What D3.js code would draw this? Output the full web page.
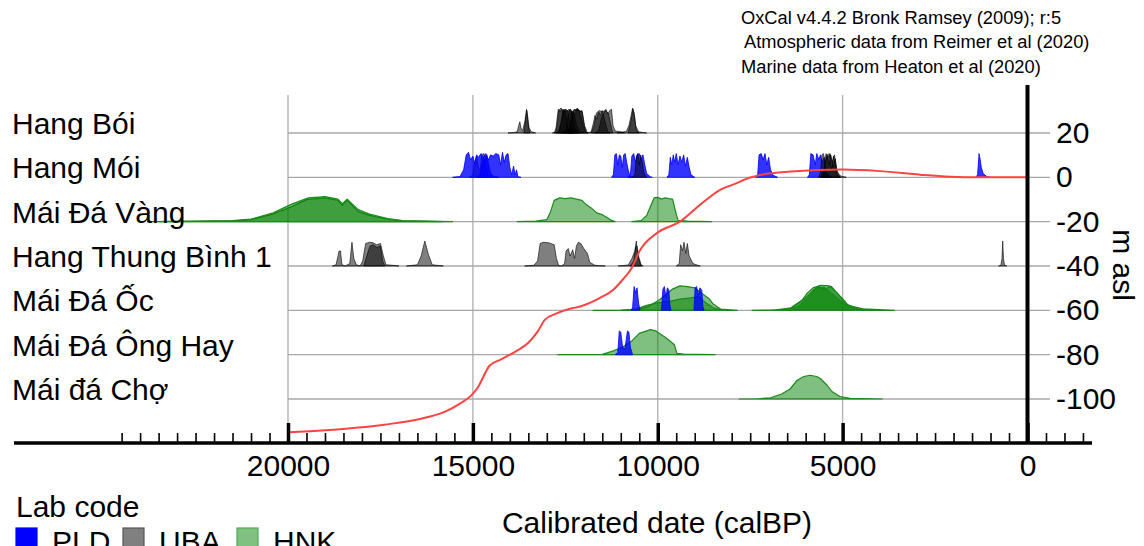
<!DOCTYPE html>
<html>
<head>
<meta charset="utf-8">
<script src="https://cdn.jsdelivr.net/npm/d3@7"></script>
<style>
html,body{margin:0;padding:0;background:#fff;}
svg{display:block;font-family:"Liberation Sans",Arial,sans-serif;}
</style>
</head>
<body>
<svg id="chart" width="1144" height="546"></svg>
<script>
// ---------------- DATA ----------------
const rowNames = ["Hang Bói","Hang Mói","Mái Đá Vàng","Hang Thung Bình 1","Mái Đá Ốc","Mái Đá Ông Hay","Mái đá Chợ"];
const rowLevels = [20,0,-20,-40,-60,-80,-100];          // m asl at which each row sits
const xMajorTicks = [20000,15000,10000,5000,0];
const yTicks = [20,0,-20,-40,-60,-80,-100];
const labCodes = ["PLD","UBA","HNK"];
const headerLines = ["OxCal v4.4.2 Bronk Ramsey (2009); r:5","Atmospheric data from Reimer et al (2020)","Marine data from Heaton et al (2020)"];

// sea level curve: [calBP, m asl]
const seaLevel = [[20000,-115],[19000,-114.1],[17400,-111.6],[16400,-108.9],[15750,-105.7],[15350,-102.1],[15050,-98.5],[14850,-94.4],[14700,-89.4],[14550,-85],[14250,-82.2],[13850,-78.6],[13500,-74.6],[13250,-69.6],[13050,-64.2],[12750,-61.5],[12350,-59.2],[12100,-58.3],[11550,-54.3],[11200,-50.7],[10950,-46.2],[10700,-40.8],[10500,-33.5],[10000,-24.9],[9400,-20],[8850,-12.3],[8300,-5.5],[7950,-3.2],[7500,-0.1],[7250,1],[6400,2.6],[5000,3.5],[4000,2.8],[2900,1.2],[2100,0.3],[1300,0],[0,0]];

// calibrated date distributions per site: [lab, [[calBP, relative probability], ...]]
const hangBoi = [
  ["UBA",[[14050,0],[13900,0.02],[13800,0.05],[13760,0.3],[13730,0.45],[13700,0.2],[13650,0.1],[13590,0.5],[13550,0.95],[13520,0.7],[13480,0.2],[13420,0.05],[13300,0]]],
  ["UBA",[[13620,0],[13570,0.6],[13540,0.9],[13510,0.4],[13460,0]]],
  ["UBA",[[12850,0],[12760,0.05],[12720,0.6],[12690,0.95],[12640,0.85],[12600,0.95],[12560,0.8],[12520,0.9],[12480,0.7],[12440,0.2],[12380,0.03],[12300,0]]],
  ["UBA",[[12800,0],[12720,0.3],[12680,0.9],[12620,1.0],[12560,0.9],[12500,0.95],[12430,0.85],[12380,0.4],[12300,0]]],
  ["UBA",[[12750,0],[12650,0.1],[12600,0.5],[12540,0.9],[12480,0.95],[12420,0.85],[12360,0.95],[12300,0.7],[12250,0.2],[12150,0]]],
  ["UBA",[[12700,0],[12620,0.4],[12560,0.95],[12480,0.85],[12400,0.95],[12330,0.9],[12260,0.8],[12200,0.3],[12100,0]]],
  ["UBA",[[12600,0],[12480,0.1],[12430,0.6],[12380,0.9],[12320,0.8],[12260,0.95],[12200,0.9],[12140,0.95],[12080,0.7],[12020,0.3],[11960,0.05],[11900,0]]],
  ["UBA",[[12500,0],[12380,0.2],[12330,0.85],[12250,0.75],[12180,1.0],[12110,0.85],[12050,0.9],[12000,0.4],[11950,0.05],[11880,0]]],
  ["UBA",[[12450,0],[12350,0.3],[12280,0.9],[12200,0.95],[12120,0.9],[12040,0.85],[11980,0.3],[11900,0]]],
  ["UBA",[[11900,0],[11800,0.05],[11740,0.4],[11700,0.7],[11650,0.55],[11600,0.85],[11550,0.7],[11500,0.9],[11450,0.6],[11400,0.3],[11350,0.05],[11300,0]]],
  ["UBA",[[11800,0],[11720,0.3],[11660,0.8],[11580,0.9],[11500,0.85],[11420,0.9],[11340,0.8],[11280,0.4],[11220,0]]],
  ["UBA",[[11700,0],[11600,0.1],[11520,0.6],[11460,0.8],[11400,0.95],[11350,0.75],[11300,0.9],[11250,0.95],[11210,0.3],[11150,0.08],[11000,0.05],[10900,0]]],
  ["UBA",[[11100,0],[10950,0.04],[10850,0.06],[10780,0.3],[10720,0.7],[10680,1.0],[10640,0.8],[10600,0.3],[10520,0.05],[10400,0.02],[10300,0]]],
  ["UBA",[[10800,0],[10720,0.5],[10670,0.95],[10630,0.7],[10580,0.1],[10500,0]]]
];
const hangMoi = [
  ["UBA",[[15100,0],[15000,0.1],[14950,0.6],[14900,0.85],[14850,0.4],[14800,0.3],[14760,0.9],[14700,0.95],[14650,0.5],[14600,0.1],[14500,0]]],
  ["PLD",[[15550,0],[15350,0.03],[15250,0.3],[15180,0.9],[15120,1.0],[15060,0.7],[15000,0.85],[14950,0.55],[14900,0.9],[14850,0.8],[14780,0.95],[14700,0.7],[14620,0.9],[14560,0.4],[14500,0.1],[14400,0.02],[14300,0]]],
  ["PLD",[[14900,0],[14800,0.1],[14720,0.8],[14650,0.95],[14580,0.7],[14520,0.9],[14450,0.85],[14380,0.95],[14300,0.9],[14250,0.5],[14200,1.0],[14150,0.6],[14100,0.9],[14050,0.95],[14000,0.4],[13950,0.1],[13900,0.45],[13860,0.1],[13820,0.3],[13780,0.02],[13700,0]]],
  ["PLD",[[11250,0],[11200,0.1],[11160,0.9],[11120,0.95],[11080,0.5],[11040,0.9],[11000,0.85],[10960,0.4],[10920,0.9],[10880,0.95],[10840,0.6],[10800,0.3],[10750,0.05],[10700,0]]],
  ["PLD",[[10800,0],[10740,0.1],[10700,0.85],[10650,0.95],[10600,0.6],[10560,0.9],[10500,0.95],[10450,0.7],[10400,0.9],[10350,0.5],[10300,0.15],[10200,0.02],[10150,0]]],
  ["UBA",[[10700,0],[10620,0.1],[10580,0.8],[10540,0.95],[10500,0.5],[10460,0.9],[10420,0.6],[10380,0.2],[10300,0]]],
  ["PLD",[[9750,0],[9700,0.1],[9660,0.8],[9620,0.5],[9580,0.9],[9540,0.6],[9500,0.95],[9450,0.5],[9400,0.85],[9350,0.6],[9300,0.9],[9250,0.45],[9200,0.8],[9150,0.4],[9100,0.1],[9000,0]]],
  ["PLD",[[7350,0],[7300,0.05],[7260,0.9],[7200,0.95],[7150,0.7],[7100,0.95],[7050,0.5],[7000,0.8],[6950,0.3],[6880,0.08],[6760,0]]],
  ["PLD",[[5950,0],[5900,0.1],[5860,0.95],[5800,0.9],[5740,0.5],[5700,0.95],[5640,0.7],[5600,0.9],[5560,0.6],[5500,0.8],[5450,0.2],[5350,0.05],[5300,0]]],
  ["UBA",[[5650,0],[5600,0.2],[5560,0.9],[5520,0.95],[5470,0.6],[5420,0.85],[5360,0.5],[5320,0.9],[5260,0.4],[5200,0.75],[5150,0.2],[5050,0.05],[4900,0]]],
  ["UBA",[[5600,0],[5500,0.3],[5450,0.95],[5400,0.8],[5350,0.9],[5300,0.3],[5250,0.85],[5200,0.5],[5150,0.1],[5050,0]]],
  ["UBA",[[5550,0],[5480,0.5],[5420,0.9],[5340,0.95],[5280,0.6],[5220,0.9],[5160,0.3],[5080,0]]],
  ["PLD",[[1400,0],[1350,0.1],[1310,0.95],[1280,0.7],[1250,0.4],[1200,0.15],[1100,0.03],[1000,0]]]
];
const maiDaVang = [
  ["HNK",[[23800,0],[22500,0.01],[21500,0.03],[21000,0.08],[20400,0.3],[19900,0.6],[19500,0.88],[19000,0.95],[18650,0.85],[18530,0.65],[18400,0.85],[18100,0.4],[17800,0.25],[17300,0.1],[16900,0.03],[16000,0.01],[15550,0]]],
  ["HNK",[[23500,0],[21500,0.04],[21000,0.1],[20400,0.35],[19900,0.7],[19450,0.95],[19000,1.0],[18650,0.9],[18530,0.72],[18400,0.9],[18100,0.48],[17800,0.3],[17300,0.12],[16900,0.04],[15800,0]]],
  ["HNK",[[13800,0],[13300,0.02],[13000,0.08],[12900,0.4],[12800,0.85],[12650,0.95],[12500,0.92],[12350,0.95],[12200,0.9],[12050,0.85],[11950,0.7],[11800,0.55],[11650,0.35],[11500,0.28],[11350,0.15],[11250,0.05],[11150,0]]],
  ["HNK",[[10700,0],[10450,0.04],[10300,0.25],[10200,0.6],[10100,0.95],[10000,0.97],[9900,0.9],[9800,0.95],[9700,0.92],[9600,0.9],[9500,0.3],[9450,0.05],[9200,0.02],[8550,0]]]
];
const thungBinh = [
  ["UBA",[[18800,0],[18700,0.05],[18620,0.6],[18580,0.6],[18540,0.05],[18450,0]]],
  ["UBA",[[18450,0],[18330,0.1],[18270,0.95],[18220,0.3],[18150,0.05],[18050,0]]],
  ["UBA",[[18050,0],[17980,0.2],[17900,0.9],[17800,0.95],[17700,0.93],[17600,0.85],[17500,0.9],[17420,0.4],[17350,0.05],[17100,0.02],[17000,0]]],
  ["UBA",[[17950,0],[17850,0.5],[17780,0.8],[17700,0.85],[17600,0.75],[17500,0.8],[17440,0.2],[17380,0]]],
  ["UBA",[[16800,0],[16500,0.05],[16400,0.4],[16300,1.0],[16200,0.45],[16100,0.05],[15800,0]]],
  ["UBA",[[13600,0],[13350,0.03],[13250,0.2],[13180,0.9],[13100,0.95],[12950,0.93],[12800,0.85],[12740,0.3],[12680,0.02],[12600,0]]],
  ["UBA",[[12600,0],[12520,0.1],[12480,0.6],[12420,0.7],[12370,0.4],[12300,0.65],[12250,0.3],[12200,0.8],[12150,0.95],[12080,0.9],[12000,0.7],[11900,0.5],[11840,0.15],[11700,0.03],[11420,0]]],
  ["UBA",[[11070,0],[10800,0.04],[10700,0.3],[10620,0.6],[10580,1.0],[10540,0.5],[10500,0.3],[10450,0.05],[10395,0]]],
  ["UBA",[[10750,0],[10650,0.2],[10600,0.75],[10560,0.8],[10520,0.3],[10450,0]]],
  ["UBA",[[9500,0],[9420,0.1],[9380,0.85],[9330,0.6],[9290,0.95],[9240,0.5],[9200,0.9],[9150,0.4],[9050,0.1],[8900,0.02],[8850,0]]],
  ["UBA",[[780,0],[720,0.03],[690,0.3],[670,1.0],[650,0.3],[620,0.03],[560,0]]]
];
const maiDaOc = [
  ["HNK",[[11750,0],[11000,0.01],[10500,0.05],[10260,0.15],[9950,0.42],[9600,0.85],[9400,0.98],[9200,0.95],[9000,0.9],[8850,0.72],[8600,0.45],[8500,0.25],[8300,0.05],[7850,0]]],
  ["HNK",[[10900,0],[10600,0.05],[10300,0.2],[10000,0.3],[9700,0.35],[9400,0.45],[9100,0.5],[8900,0.55],[8700,0.3],[8500,0.1],[8200,0]]],
  ["PLD",[[10720,0],[10680,0.1],[10640,0.95],[10600,0.7],[10560,0.9],[10520,0.3],[10480,0]]],
  ["PLD",[[9900,0],[9860,0.85],[9820,0.95],[9780,0.5],[9740,0.9],[9700,0.8],[9670,0.2],[9640,0]]],
  ["PLD",[[9020,0],[8990,0.9],[8950,0.95],[8900,0.6],[8860,0.9],[8810,0.8],[8780,0.15],[8750,0]]],
  ["HNK",[[7450,0],[6800,0.02],[6400,0.1],[6100,0.4],[5950,0.7],[5800,0.9],[5600,1.0],[5350,0.98],[5150,0.7],[4990,0.45],[4850,0.2],[4450,0.06],[3600,0]]],
  ["HNK",[[6900,0],[6400,0.06],[6000,0.5],[5800,0.8],[5650,0.95],[5500,0.85],[5300,0.95],[5100,0.6],[4900,0.25],[4600,0.05],[4000,0]]],
  ["HNK",[[6600,0],[6200,0.15],[5900,0.55],[5700,0.9],[5500,0.92],[5400,0.8],[5200,0.55],[5000,0.3],[4700,0.08],[4300,0]]]
];
const ongHay = [
  ["HNK",[[12700,0],[11500,0.01],[11200,0.15],[10950,0.3],[10700,0.55],[10500,0.85],[10300,0.95],[10200,1.0],[10050,0.95],[9950,0.85],[9800,0.7],[9670,0.55],[9550,0.4],[9480,0.05],[9300,0.02],[8450,0]]],
  ["PLD",[[11150,0],[11080,0.1],[11040,0.95],[11000,0.9],[10960,0.4],[10920,0.2],[10880,0.3],[10820,0.95],[10780,0.9],[10740,0.3],[10680,0]]]
];
const maiDaCho = [
  ["HNK",[[7800,0],[7300,0.01],[6950,0.05],[6650,0.2],[6420,0.4],[6230,0.75],[6050,0.9],[5880,0.95],[5700,0.9],[5600,0.82],[5420,0.55],[5290,0.3],[5070,0.1],[4800,0.03],[3930,0]]]
];
const rowData = [hangBoi, hangMoi, maiDaVang, thungBinh, maiDaOc, ongHay, maiDaCho];

// ---------------- STYLES ----------------
const labStyle = {
  PLD: {fill:"rgba(0,0,255,0.8)", stroke:"#0000ff", sw:0.8, legendFill:"#0000ff", legendStroke:"#0000ff"},
  UBA: {fill:"rgba(0,0,0,0.5)", stroke:"rgba(0,0,0,0.85)", sw:0.7, legendFill:"#808080", legendStroke:"#555"},
  HNK: {fill:"rgba(0,128,0,0.5)", stroke:"#1a8a1a", sw:1.2, legendFill:"#80c080", legendStroke:"#4caf50"}
};
const FONT = 30;

// ---------------- SCALES ----------------
const svg = d3.select("#chart");
const x = d3.scaleLinear().domain([20000, 0]).range([288, 1027.5]);
const y = d3.scaleLinear().domain([20, -100]).range([133, 399]);
const h = d3.scaleLinear().domain([0, 1]).range([0, 25]);
const axisY = 443;

// header text
svg.append("g").selectAll("text").data(headerLines).join("text")
  .attr("x", (d,i) => i === 1 ? 744 : 741)
  .attr("y", (d,i) => [24,48,73][i])
  .attr("font-size", 18.3).attr("fill","#000").text(d => d);

// vertical gridlines
svg.append("g").selectAll("line").data(xMajorTicks.filter(d => d !== 0)).join("line")
  .attr("x1", d => x(d)).attr("x2", d => x(d))
  .attr("y1", 95).attr("y2", axisY)
  .attr("stroke", "#b4b4b4").attr("stroke-width", 1.4);

// row gridlines
svg.append("g").selectAll("line").data(rowLevels).join("line")
  .attr("x1", x(20000)).attr("x2", 1050)
  .attr("y1", d => y(d)).attr("y2", d => y(d))
  .attr("stroke", "#a8a8a8").attr("stroke-width", 1.4);

// distributions
const gDist = svg.append("g");
rowData.forEach((dates, i) => {
  const base = y(rowLevels[i]);
  const area = d3.area()
    .x(d => x(d[0]))
    .y0(base)
    .y1(d => base - h(d[1]))
    .curve(d3.curveLinear);
  gDist.append("g").selectAll("path").data(dates).join("path")
    .attr("d", d => area(d[1]))
    .attr("fill", d => labStyle[d[0]].fill)
    .attr("stroke", d => labStyle[d[0]].stroke)
    .attr("stroke-width", d => labStyle[d[0]].sw)
    .attr("stroke-linejoin","round");
});

// sea level curve
svg.append("path").datum(seaLevel)
  .attr("d", d3.line().x(d => x(d[0])).y(d => y(d[1])).curve(d3.curveMonotoneX))
  .attr("fill","none").attr("stroke","#ff4343").attr("stroke-width",2);

// zero line (thick)
svg.append("line").attr("x1", x(0)).attr("x2", x(0)).attr("y1", 85).attr("y2", axisY)
  .attr("stroke","#000").attr("stroke-width",4);

// row labels
svg.append("g").selectAll("text").data(rowNames).join("text")
  .attr("x", 12).attr("y", (d,i) => y(rowLevels[i]) + 1)
  .attr("font-size", FONT).attr("fill","#000").text(d => d);

// right axis (m asl)
const rAxis = svg.append("g").attr("transform", `translate(1050,0)`)
  .call(d3.axisRight(y).tickValues(yTicks).tickSize(0).tickPadding(6).tickFormat(d => String(d).replace("−","-")));
rAxis.select(".domain").remove();
rAxis.selectAll("text").attr("font-size", FONT).attr("font-family","Liberation Sans, Arial, sans-serif").attr("fill","#000");
svg.append("text").attr("transform","translate(1113,265) rotate(90)")
  .attr("text-anchor","middle").attr("font-size",FONT).text("m asl");

// x axis: minor ticks
const minorTicks = d3.range(24500, -1501, -500).filter(d => d % 5000 !== 0);
const minorAxis = svg.append("g").attr("transform",`translate(0,${axisY})`)
  .call(d3.axisTop(x).tickValues(minorTicks).tickSize(10).tickFormat(""));
minorAxis.select(".domain").remove();
minorAxis.selectAll("line").attr("stroke","#000").attr("stroke-width",1.6);
// major ticks
const majorAxis = svg.append("g").attr("transform",`translate(0,${axisY})`)
  .call(d3.axisTop(x).tickValues(xMajorTicks).tickSize(20).tickFormat(""));
majorAxis.select(".domain").remove();
majorAxis.selectAll("line").attr("stroke","#000").attr("stroke-width",3.5);
// labels
const labAxis = svg.append("g").attr("transform",`translate(0,${axisY})`)
  .call(d3.axisBottom(x).tickValues(xMajorTicks).tickSize(0).tickPadding(12).tickFormat(d3.format("d")));
labAxis.select(".domain").remove();
labAxis.selectAll("text").attr("font-size",FONT).attr("font-family","Liberation Sans, Arial, sans-serif").attr("fill","#000");
// axis line
svg.append("line").attr("x1",14).attr("x2",1092).attr("y1",axisY).attr("y2",axisY)
  .attr("stroke","#000").attr("stroke-width",3.5);

// axis title
svg.append("text").attr("x",657).attr("y",533).attr("text-anchor","middle")
  .attr("font-size",FONT).text("Calibrated date (calBP)");

// legend
svg.append("text").attr("x",16).attr("y",517).attr("font-size",FONT).text("Lab code");
const legX = [16,123,237];
const lg = svg.append("g").selectAll("g").data(labCodes).join("g")
  .attr("transform",(d,i) => `translate(${legX[i]},528)`);
lg.append("rect").attr("width",21).attr("height",21)
  .attr("fill", d => labStyle[d].legendFill).attr("stroke", d => labStyle[d].legendStroke).attr("stroke-width",1.2);
lg.append("text").attr("x",36).attr("y",24).attr("font-size",FONT).text(d => d);
</script>
</body>
</html>
